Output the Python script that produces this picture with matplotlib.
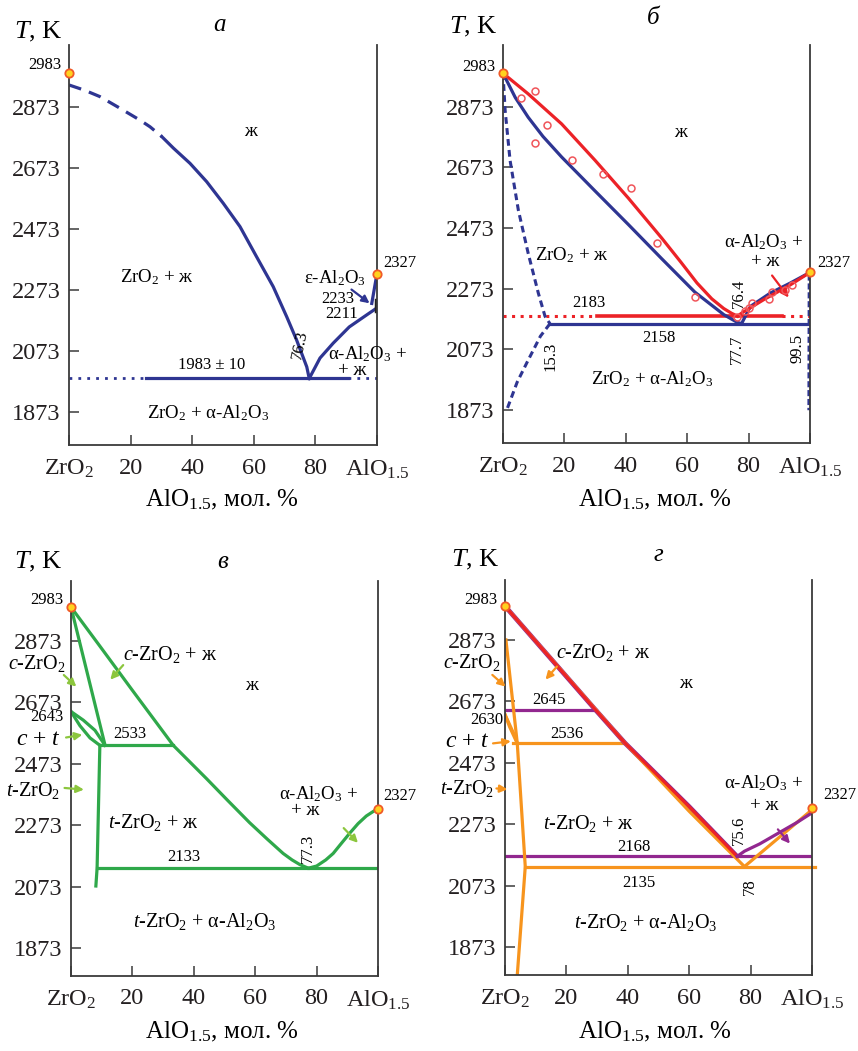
import numpy as np
import matplotlib.pyplot as plt

plt.rcParams['font.family'] = ['Liberation Serif', 'DejaVu Serif']
plt.rcParams['mathtext.fontset'] = 'custom'
plt.rcParams['mathtext.rm'] = 'Liberation Serif'
plt.rcParams['mathtext.it'] = 'Liberation Serif:italic'
plt.rcParams['mathtext.bf'] = 'Liberation Serif:bold'

BLUE = '#2e3592'
RED = '#ec2227'
GREEN = '#2fa84a'
LGREEN = '#8cc63e'
ORANGE = '#f7941d'
PURPLE = '#92278f'
AXC = '#3a3a3a'

# ---- axes data ----
x_ticks = [0, 20, 40, 60, 80, 100]
x_ticklabels = ['ZrO$_2$', '20', '40', '60', '80', 'AlO$_{1.5}$']
t_ticks = [1873, 2073, 2273, 2473, 2673, 2873]

# ---- panel a ----
a_liq_dash_x = [0, 5, 10, 16, 23, 26.3, 30.1]
a_liq_dash_t = [2945, 2928, 2907, 2872, 2830, 2808, 2776]
a_liq_x = [30.1, 33.9, 39.3, 44.7, 50.1, 55.5, 60.9, 66.3, 70.7, 73.9, 77.2, 78.0]
a_liq_t = [2776, 2738, 2688, 2628, 2557, 2481, 2382, 2284, 2185, 2109, 2021, 1983]
a_al_x = [78.0, 81.5, 85.8, 91, 96.6, 99.5]
a_al_t = [1983, 2050, 2099, 2152, 2191, 2211]
a_eps_x = [98.3, 100]
a_eps_t = [2229, 2327]
a_eut_t = 1983
a_eut_solid = [25, 90.5]

# ---- panel b ----
b_red_x = [0, 8.2, 19.1, 30, 40.8, 51.7, 58, 63.2, 68, 71.9, 74.5, 76.4]
b_red_t = [2983, 2915, 2816, 2696, 2572, 2440, 2360, 2292, 2240, 2208, 2192, 2183]
b_red2_x = [76.4, 77.9, 84.9, 93.6, 100]
b_red2_t = [2183, 2194, 2237, 2286, 2327]
b_blue_x = [0, 4, 8.2, 13, 19.1, 30, 40.8, 51.7, 62.5, 71.9, 76.2, 77.7]
b_blue_t = [2983, 2903, 2838, 2775, 2707, 2595, 2485, 2372, 2262, 2188, 2163, 2158]
b_blue2_x = [77.7, 80.6, 87.1, 93.6, 100]
b_blue2_t = [2158, 2215, 2259, 2292, 2327]
b_solv_up_x = [0, 0.7, 2.3, 5, 8.2, 11.5, 13.7, 15.3]
b_solv_up_t = [2983, 2860, 2696, 2532, 2390, 2259, 2182, 2158]
b_solv_lo_x = [15.3, 12.2, 7.8, 4.6, 1.3, 0.5]
b_solv_lo_t = [2158, 2117, 2030, 1965, 1876, 1873]
b_exp_x = [5.9, 10.4, 14.2, 10.4, 22.4, 32.7, 41.7, 50.1, 62.6, 76.3, 78.9, 80, 81.1, 86.5, 87.6, 92, 94.1]
b_exp_t = [2900, 2923, 2811, 2753, 2698, 2652, 2606, 2423, 2246, 2180, 2199, 2210, 2226, 2240, 2264, 2270, 2286]
b_eut_red = 2183
b_eut_blue = 2158

# ---- panel c ----
c_liq_x = [0, 9.4, 20, 33.3, 44.1, 51, 58.2, 64, 69.1, 72, 74.5, 77.3]
c_liq_t = [2983, 2856, 2712, 2533, 2425, 2354, 2281, 2227, 2181, 2160, 2145, 2133]
c_al_x = [77.3, 80, 83, 85.4, 88, 90.8, 93.5, 96.2, 98.5, 100]
c_al_t = [2133, 2140, 2160, 2181, 2213, 2247, 2278, 2303, 2318, 2327]
c_sol_x = [0, 11.1]
c_sol_t = [2983, 2533]
c_lens_up_x = [0, 4, 7.8, 11.1]
c_lens_up_t = [2643, 2615, 2582, 2533]
c_lens_lo_x = [0, 2.9, 6.2, 9.4]
c_lens_lo_t = [2643, 2597, 2557, 2533]
c_tsolv_x = [9.4, 8.5, 8.1]
c_tsolv_t = [2533, 2133, 2075]
c_per_t, c_per_x = 2533, [9.4, 33.3]
c_eut_t, c_eut_x = 2133, [8.5, 100]

# ---- panel d ----
d_red_x = [0, 29.5, 39.2, 60, 75.6]
d_red_t = [2983, 2645, 2536, 2330, 2168]
d_or_x = [0, 39.2, 60, 78]
d_or_t = [2983, 2536, 2315, 2135]
d_pur2_x = [75.6, 78, 83, 89.6, 95, 100]
d_pur2_t = [2168, 2185, 2209, 2247, 2278, 2310]
d_or2_x = [78, 100]
d_or2_t = [2135, 2320]
d_solv_x = [0.3, 4.0, 6.6, 4.0]
d_solv_t = [2873, 2536, 2135, 1782]
d_lens1_x = [0, 3.2, 4.0]
d_lens1_t = [2630, 2560, 2536]
d_lens2_x = [0, 1.5, 4.0]
d_lens2_t = [2630, 2590, 2536]
d_pur_per_t, d_pur_per_x = 2645, [0, 29.5]
d_or_per_t, d_or_per_x = 2536, [2.5, 39.2]
d_pur_eut_t, d_pur_eut_x = 2168, [0, 100]
d_or_eut_t, d_or_eut_x = 2135, [6.6, 101]

W, H = 858, 1051
fig = plt.figure(figsize=(W / 100, H / 100), dpi=100)


def make_ax(l, t, r, b, ylim):
    ax = fig.add_axes([l / W, 1 - b / H, (r - l) / W, (b - t) / H])
    ax.set_xlim(0, 100)
    ax.set_ylim(*ylim)
    ax.spines['top'].set_visible(False)
    for s in ['left', 'right', 'bottom']:
        ax.spines[s].set_color(AXC)
        ax.spines[s].set_linewidth(1.3)
    ax.set_xticks(x_ticks)
    ax.set_xticklabels(x_ticklabels)
    ax.set_yticks(t_ticks)
    ax.set_yticklabels([str(v) for v in t_ticks])
    ax.tick_params(direction='in', length=7, width=1.1, color=AXC,
                   labelsize=17.5, labelcolor='#231f20')
    ax.tick_params(axis='x', pad=9)
    ax.tick_params(axis='y', pad=6)
    return ax


def melt_point(ax, x, t):
    ax.plot([x], [t], 'o', ms=6, mfc='#ffd21f', mec='#f05a28', mew=1.3,
            clip_on=False, zorder=6)


def arrow(ax, x0, t0, x1, t1, c):
    ax.annotate('', xy=(x1, t1), xytext=(x0, t0), annotation_clip=False,
                arrowprops=dict(arrowstyle='-|>', color=c, lw=1.6,
                                mutation_scale=11))


def heads(ax, letter, lx, ly, tx, ty, xx, xy):
    fig.text(tx / W, 1 - ty / H, '$T$, K', fontsize=19, ha='center', va='center')
    fig.text(lx / W, 1 - ly / H, letter, fontsize=18, style='italic',
             ha='center', va='center')
    fig.text(xx / W, 1 - xy / H, 'AlO$_{1.5}$, мол. %', fontsize=18,
             ha='center', va='center')


ylim_top = (1765, 3076)
ylim_bot = (1782, 3068)
fs_lab = 13.5
fs_num = 12

# ================= panel a =================
ax = make_ax(69, 45, 377, 445, ylim_top)
ax.plot(a_liq_dash_x, a_liq_dash_t, color=BLUE, lw=2.3, ls=(0, (4, 2.6)))
ax.plot(a_liq_x, a_liq_t, color=BLUE, lw=2.3)
ax.plot(a_al_x, a_al_t, color=BLUE, lw=2.3)
ax.plot(a_eps_x, a_eps_t, color=BLUE, lw=2.3)
ax.plot([99.6, 99.6], [2205, 2240], color='#222', lw=2.5)
ax.plot([0, a_eut_solid[0]], [a_eut_t] * 2, color=BLUE, lw=2, ls=(0, (1, 2.2)))
ax.plot(a_eut_solid, [a_eut_t] * 2, color=BLUE, lw=2.3)
ax.plot([a_eut_solid[1], 100], [a_eut_t] * 2, color=BLUE, lw=2, ls=(0, (1, 2.2)))
arrow(ax, 91, 2280, 98.3, 2224, BLUE)
melt_point(ax, 0, 2983)
melt_point(ax, 100, 2327)
ax.text(-2.5, 3011, '2983', fontsize=fs_num, ha='right', va='center')
ax.text(107.5, 2361, '2327', fontsize=fs_num, ha='center', va='center')
ax.text(58.8, 2791, 'ж', fontsize=fs_lab, ha='center', va='center')
ax.text(28.5, 2316, 'ZrO$_2$ + ж', fontsize=fs_lab, ha='center', va='center')
ax.text(86.4, 2312, 'ε-Al$_2$O$_3$', fontsize=fs_lab, ha='center', va='center')
ax.text(87.4, 2242, '2233', fontsize=fs_num, ha='center', va='center')
ax.text(88.6, 2193, '2211', fontsize=fs_num, ha='center', va='center')
ax.text(75.0, 2092, '76.3', fontsize=fs_num, ha='center', va='center', rotation=78)
ax.text(97, 2064, 'α-Al$_2$O$_3$ +', fontsize=fs_lab, ha='center', va='center')
ax.text(91.8, 2008, '+ ж', fontsize=fs_lab, ha='center', va='center')
ax.text(46.3, 2027, '1983 ± 10', fontsize=fs_num, ha='center', va='center')
ax.text(45.2, 1870, 'ZrO$_2$ + α-Al$_2$O$_3$', fontsize=fs_lab, ha='center', va='center')
heads(ax, 'а', 220, 25, 38, 32, 222, 500)

# ================= panel b =================
ax = make_ax(503, 45, 810, 443, ylim_top)
ax.plot([0, 30.6], [b_eut_red] * 2, color=RED, lw=2.2, ls=(0, (1, 1.8)))
ax.plot([30.6, 90.9], [b_eut_red] * 2, color=RED, lw=2.6)
ax.plot([90.9, 100], [b_eut_red] * 2, color=RED, lw=2.2, ls=(0, (1, 1.8)))
ax.plot([15.3, 100], [b_eut_blue] * 2, color=BLUE, lw=2.3)
ax.plot(b_solv_up_x, b_solv_up_t, color=BLUE, lw=2.2, ls=(0, (2.2, 1.4)))
ax.plot(b_solv_lo_x, b_solv_lo_t, color=BLUE, lw=2.2, ls=(0, (2.2, 1.4)))
ax.plot([99.7, 99.6], [2320, 1873], color=BLUE, lw=2.0, ls=(0, (2.2, 1.0)))
ax.plot(b_blue_x, b_blue_t, color=BLUE, lw=2.3)
ax.plot(b_blue2_x, b_blue2_t, color=BLUE, lw=2.3)
ax.plot(b_red_x, b_red_t, color=RED, lw=2.3)
ax.plot(b_red2_x, b_red2_t, color=RED, lw=2.3)
ax.plot(b_exp_x, b_exp_t, 'o', ms=5, mfc='none', mec='#f0555a', mew=1.1, zorder=5)
arrow(ax, 87.1, 2324, 93.6, 2237, RED)
melt_point(ax, 0, 2983)
melt_point(ax, 100, 2327)
ax.text(-2.5, 3002, '2983', fontsize=fs_num, ha='right', va='center')
ax.text(107.7, 2357, '2327', fontsize=fs_num, ha='center', va='center')
ax.text(57.8, 2789, 'ж', fontsize=fs_lab, ha='center', va='center')
ax.text(22.5, 2384, 'ZrO$_2$ + ж', fontsize=fs_lab, ha='center', va='center')
ax.text(84.9, 2428, 'α-Al$_2$O$_3$ +', fontsize=fs_lab, ha='center', va='center')
ax.text(85.4, 2362, '+ ж', fontsize=fs_lab, ha='center', va='center')
ax.text(27.9, 2226, '2183', fontsize=fs_num, ha='center', va='center')
ax.text(76.8, 2259, '76.4', fontsize=fs_num, ha='center', va='center', rotation=90)
ax.text(50.7, 2111, '2158', fontsize=fs_num, ha='center', va='center')
ax.text(15.6, 2051, '15.3', fontsize=fs_num, ha='center', va='center', rotation=90)
ax.text(76.2, 2073, '77.7', fontsize=fs_num, ha='center', va='center', rotation=90)
ax.text(95.8, 2078, '99.5', fontsize=fs_num, ha='center', va='center', rotation=90)
ax.text(48.5, 1975, 'ZrO$_2$ + α-Al$_2$O$_3$', fontsize=fs_lab, ha='center', va='center')
heads(ax, 'б', 653, 18, 473, 27, 655, 500)

# ================= panel c =================
ax = make_ax(71, 581, 378, 976, ylim_bot)
ax.plot(c_liq_x, c_liq_t, color=GREEN, lw=2.3)
ax.plot(c_al_x, c_al_t, color=GREEN, lw=2.3)
ax.plot(c_sol_x, c_sol_t, color=GREEN, lw=2.3)
ax.plot(c_lens_up_x, c_lens_up_t, color=GREEN, lw=2.3)
ax.plot(c_lens_lo_x, c_lens_lo_t, color=GREEN, lw=2.3)
ax.plot(c_tsolv_x, c_tsolv_t, color=GREEN, lw=2.3)
ax.plot(c_per_x, [c_per_t] * 2, color=GREEN, lw=2.3)
ax.plot(c_eut_x, [c_eut_t] * 2, color=GREEN, lw=2.3)
arrow(ax, -3.0, 2768, 2.4, 2718, LGREEN)
arrow(ax, 17.6, 2801, 12.2, 2740, LGREEN)
arrow(ax, -2.5, 2557, 4.6, 2569, LGREEN)
arrow(ax, -3.0, 2395, 5.1, 2388, LGREEN)
arrow(ax, 88.2, 2270, 94.1, 2209, LGREEN)
melt_point(ax, 0, 2983)
melt_point(ax, 100, 2327)
ax.text(-2.5, 3006, '2983', fontsize=fs_num, ha='right', va='center')
ax.text(107.2, 2369, '2327', fontsize=fs_num, ha='center', va='center')
ax.text(32.2, 2829, '$c$-ZrO$_2$ + ж', fontsize=fs_lab + 1, ha='center', va='center')
ax.text(58.9, 2729, 'ж', fontsize=fs_lab, ha='center', va='center')
ax.text(-11.2, 2800, '$c$-ZrO$_2$', fontsize=fs_lab + 1, ha='center', va='center')
ax.text(-2.5, 2624, '2643', fontsize=fs_num, ha='right', va='center')
ax.text(-10.6, 2551, '$c$ + $t$', fontsize=17, ha='center', va='center')
ax.text(19.2, 2569, '2533', fontsize=fs_num, ha='center', va='center')
ax.text(-12.3, 2386, '$t$-ZrO$_2$', fontsize=fs_lab + 1, ha='center', va='center')
ax.text(80.6, 2375, 'α-Al$_2$O$_3$ +', fontsize=fs_lab, ha='center', va='center')
ax.text(76.2, 2320, '+ ж', fontsize=fs_lab, ha='center', va='center')
ax.text(26.8, 2281, '$t$-ZrO$_2$ + ж', fontsize=fs_lab + 1, ha='center', va='center')
ax.text(36.6, 2170, '2133', fontsize=fs_num, ha='center', va='center')
ax.text(77.3, 2198, '77.3', fontsize=fs_num, ha='center', va='center', rotation=90)
ax.text(43.6, 1959, '$t$-ZrO$_2$ + α-Al$_2$O$_3$', fontsize=fs_lab + 1, ha='center', va='center')
heads(ax, 'в', 223, 562, 38, 562, 222, 1032)

# ================= panel d =================
ax = make_ax(505, 580, 812, 975, ylim_bot)
ax.plot(d_pur_per_x, [d_pur_per_t] * 2, color=PURPLE, lw=2.3)
ax.plot(d_pur_eut_x, [d_pur_eut_t] * 2, color=PURPLE, lw=2.3)
ax.plot(d_or_per_x, [d_or_per_t] * 2, color=ORANGE, lw=2.3)
ax.plot(d_or_eut_x, [d_or_eut_t] * 2, color=ORANGE, lw=2.3, clip_on=False)
ax.plot(d_solv_x, d_solv_t, color=ORANGE, lw=2.3)
ax.plot(d_lens1_x, d_lens1_t, color=ORANGE, lw=2.3)
ax.plot(d_lens2_x, d_lens2_t, color=ORANGE, lw=2.3)
ax.plot(d_red_x, d_red_t, color=PURPLE, lw=3.4)
ax.plot(d_or_x, d_or_t, color=ORANGE, lw=2.3)
ax.plot(d_red_x, d_red_t, color=RED, lw=2.2)
ax.plot(d_or2_x, d_or2_t, color=ORANGE, lw=2.3)
ax.plot(d_pur2_x, d_pur2_t, color=PURPLE, lw=2.3)
arrow(ax, -4.8, 2765, 0.85, 2715, ORANGE)
arrow(ax, 17.5, 2793, 12.6, 2737, ORANGE)
arrow(ax, -4.8, 2535, 2.8, 2544, ORANGE)
arrow(ax, -3.7, 2390, 1.7, 2386, ORANGE)
arrow(ax, 88.3, 2263, 93.4, 2203, PURPLE)
melt_point(ax, 0, 2983)
melt_point(ax, 100, 2327)
ax.text(-2.5, 3002, '2983', fontsize=fs_num, ha='right', va='center')
ax.text(109.2, 2368, '2327', fontsize=fs_num, ha='center', va='center')
ax.text(32.1, 2831, '$c$-ZrO$_2$ + ж', fontsize=fs_lab + 1, ha='center', va='center')
ax.text(58.7, 2732, 'ж', fontsize=fs_lab, ha='center', va='center')
ax.text(-10.7, 2800, '$c$-ZrO$_2$', fontsize=fs_lab + 1, ha='center', va='center')
ax.text(14.2, 2677, '2645', fontsize=fs_num, ha='center', va='center')
ax.text(-0.5, 2612, '2630', fontsize=fs_num, ha='right', va='center')
ax.text(-12.4, 2542, '$c$ + $t$', fontsize=17, ha='center', va='center')
ax.text(20.2, 2566, '2536', fontsize=fs_num, ha='center', va='center')
ax.text(-12.4, 2390, '$t$-ZrO$_2$', fontsize=fs_lab + 1, ha='center', va='center')
ax.text(84.2, 2406, 'α-Al$_2$O$_3$ +', fontsize=fs_lab, ha='center', va='center')
ax.text(84.5, 2335, '+ ж', fontsize=fs_lab, ha='center', va='center')
ax.text(27.2, 2274, '$t$-ZrO$_2$ + ж', fontsize=fs_lab + 1, ha='center', va='center')
ax.text(41.9, 2200, '2168', fontsize=fs_num, ha='center', va='center')
ax.text(76.1, 2252, '75.6', fontsize=fs_num, ha='center', va='center', rotation=90)
ax.text(43.5, 2083, '2135', fontsize=fs_num, ha='center', va='center')
ax.text(79.9, 2070, '78', fontsize=fs_num, ha='center', va='center', rotation=90)
ax.text(45.7, 1954, '$t$-ZrO$_2$ + α-Al$_2$O$_3$', fontsize=fs_lab + 1, ha='center', va='center')
heads(ax, 'г', 658, 555, 475, 560, 655, 1032)

fig.savefig('out.png', dpi=100)
